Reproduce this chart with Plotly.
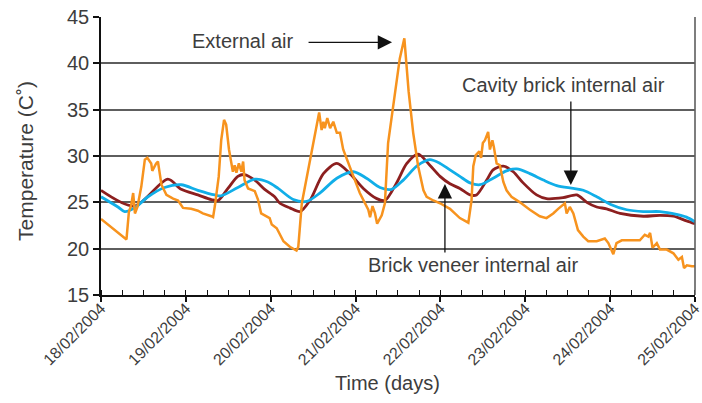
import pandas as pd
import plotly.graph_objects as go

START = pd.Timestamp("2004-02-18")

# External air (hours from 18/02/2004 00:00, temperature C)
ext_hours = [0, 7.2, 7.9, 8.5, 9.1, 9.6, 10.3, 11.4, 12.4, 13.1, 14.2, 14.5, 15.6, 16.1, 17.1, 18.5,
             20.4, 21.8, 23.2, 25.5, 27.4, 28.8, 31.2, 31.7, 32.2, 33.3, 34.0, 34.8, 35.4, 36.2, 37.3,
             37.8, 38.3, 39.0, 39.7, 40.2, 40.6, 41.6, 43.5, 44.4, 45.3, 46.3, 47.7, 48.3, 49.7, 51.6,
             53.4, 55.3, 55.8, 56.8, 58.2, 59.6, 61.0, 61.7, 62.4, 62.9, 63.3, 64.0, 64.8, 65.7, 66.7,
             67.6, 68.5, 70.4, 71.8, 73.2, 74.2, 75.6, 76.1, 76.8, 77.5, 78.1, 79.4, 80.3, 81.2, 82.2,
             83.1, 84.5, 85.8, 87.0, 88.3, 89.7, 91.2, 92.1, 94.0, 95.9, 98.7, 101.5, 103.9, 104.8,
             105.3, 106.0, 107.0, 107.5, 108.0, 108.6, 109.5, 110.0, 110.7, 111.1, 111.9, 112.8, 113.8,
             114.7, 116.1, 118.5, 121.3, 124.1, 126.0, 127.9, 129.3, 131.2, 131.7, 132.6, 133.6, 134.9,
             136.4, 137.8, 140.2, 141.1, 142.5, 143.5, 144.9, 145.8, 147.3, 149.6, 152.4, 153.8, 154.8,
             155.3, 156.0, 157.2, 158.1, 160.0, 161.9, 163.3, 164.3, 164.9, 165.7, 167.1, 168.0]
ext_temp = [23.2, 21.0, 24.0, 24.6, 26.0, 23.8, 24.5, 26.7, 29.6, 29.8, 29.2, 28.4, 29.2, 29.4, 26.9, 25.8,
            25.4, 25.2, 24.4, 24.3, 24.1, 23.8, 23.5, 23.4, 24.6, 27.8, 31.7, 33.9, 33.4, 30.7, 28.3,
            29.0, 28.2, 29.2, 28.3, 29.4, 27.4, 26.5, 26.2, 25.3, 23.8, 23.6, 23.3, 22.6, 22.2, 20.8,
            20.2, 19.8, 20.2, 24.9, 27.8, 30.7, 33.4, 34.7, 32.8, 33.7, 33.0, 34.1, 33.0, 33.7, 32.5,
            32.5, 30.7, 28.9, 27.4, 26.0, 25.3, 24.2, 23.4, 24.6, 23.8, 22.7, 23.6, 24.9, 31.4, 34.2,
            36.5, 40.5, 42.7, 37.0, 32.5, 28.9, 26.3, 25.6, 25.2, 24.9, 24.3, 23.3, 22.8, 25.2,
            28.9, 30.1, 30.5, 29.8, 31.4, 31.7, 32.6, 30.7, 31.7, 31.0, 29.2, 29.0, 27.2,
            26.3, 25.6, 25.0, 24.2, 23.5, 23.3, 23.8, 24.3, 24.9, 23.8, 24.5, 23.8, 22.0,
            21.3, 20.8, 20.8, 20.9, 21.1, 20.6, 19.4, 20.6, 20.9, 20.9, 20.9, 21.5, 21.3,
            21.7, 20.1, 20.6, 19.9, 19.9, 19.5, 18.8, 19.1, 17.9, 18.2, 18.1, 18.1]

# Brick veneer internal air
bv_hours = [0, 9.5, 18.9, 22.7, 27.4, 31.2, 33.1, 35.9, 38.7, 40.6, 43.5, 46.3, 49.1, 50.6, 53.4, 56.3,
            59.1, 62.9, 66.7, 70.4, 74.2, 78.0, 80.3, 83.6, 86.5, 89.7, 93.0, 95.9, 98.7, 101.5, 104.4,
            106.2, 109.1, 110.9, 113.8, 116.6, 119.4, 123.2, 126.0, 130.7, 134.6, 137.4, 140.2, 143.0,
            146.8, 153.4, 158.1, 161.9, 165.6, 168.0]
bv_temp = [26.3, 24.6, 27.5, 26.4, 25.8, 25.3, 25.2, 26.5, 27.8, 28.0, 27.4, 26.4, 25.6, 24.9, 24.4, 24.0,
           25.2, 28.1, 29.2, 28.1, 26.5, 25.4, 25.2, 27.1, 29.2, 30.2, 29.0, 27.8, 27.0, 26.5, 25.8,
           25.8, 27.4, 28.5, 28.9, 28.3, 27.1, 25.8, 25.4, 25.5, 25.8, 25.0, 24.5, 24.3,
           23.8, 23.5, 23.6, 23.5, 23.0, 22.7]

# Cavity brick internal air
cb_hours = [0, 4.8, 6.7, 9.5, 13.3, 18.0, 22.7, 27.4, 32.2, 34.0, 38.7, 43.5, 47.2, 50.1, 54.4, 58.2,
            61.9, 66.7, 71.4, 75.1, 78.9, 82.2, 85.5, 89.3, 93.0, 95.9, 98.7, 101.5, 104.4, 107.2,
            110.9, 114.7, 117.6, 121.3, 125.1, 128.9, 133.6, 136.4, 140.2, 144.0, 148.7, 153.4, 158.1,
            162.8, 165.6, 168.0]
cb_temp = [25.6, 24.5, 24.0, 24.4, 25.6, 26.6, 26.9, 26.3, 25.8, 25.7, 26.6, 27.5, 27.2, 26.5, 25.3, 25.1,
           26.0, 27.6, 28.3, 27.6, 26.6, 26.4, 27.4, 28.9, 29.6, 29.2, 28.5, 27.8, 27.1, 26.9,
           27.6, 28.4, 28.6, 28.1, 27.4, 26.8, 26.5, 26.3, 25.6, 24.8, 24.2, 24.0, 24.0,
           23.7, 23.4, 22.9]

x_ticks = pd.date_range("2004-02-18", "2004-02-25", freq="D")
y_ticks = [15, 20, 25, 30, 35, 40, 45]


def to_time(hours):
    return START + pd.to_timedelta(hours, unit="h")


FONT = "Liberation Sans"
TXT = "#3d3d3d"

fig = go.Figure()
fig.add_trace(go.Scatter(x=to_time(bv_hours), y=bv_temp, mode="lines",
                         line=dict(color="#8c1f1f", width=2.8, shape="spline", smoothing=0.8),
                         name="Brick veneer internal air"))
fig.add_trace(go.Scatter(x=to_time(cb_hours), y=cb_temp, mode="lines",
                         line=dict(color="#11aee8", width=2.8, shape="spline", smoothing=0.8),
                         name="Cavity brick internal air"))
fig.add_trace(go.Scatter(x=to_time(ext_hours), y=ext_temp, mode="lines",
                         line=dict(color="#f7931e", width=2.5),
                         name="External air"))

fig.update_layout(
    width=702, height=403,
    margin=dict(l=101, r=7, t=17, b=108, autoexpand=False),
    paper_bgcolor="white", plot_bgcolor="white",
    showlegend=False,
    font=dict(family=FONT, color=TXT, size=19),
)
x_end = x_ticks[-1] + pd.Timedelta(seconds=20)
fig.update_xaxes(
    range=[x_ticks[0], x_end], automargin=False,
    tickvals=x_ticks, tickformat="%d/%m/%Y", tickangle=-45,
    tickfont=dict(size=16, color=TXT),
    ticklabeloverflow="allow", ticklabelstandoff=-9,
    showgrid=False, zeroline=False,
    showline=True, linecolor="#111", linewidth=1.5,
    ticks="outside", ticklen=5, tickcolor="#111", tickwidth=1.5,
    minor=dict(dtick=6 * 3600 * 1000, ticks="inside", ticklen=5, tickcolor="#111", tickwidth=1.2),
)
fig.update_yaxes(
    range=[15, 45], tickvals=y_ticks, automargin=False,
    tickfont=dict(size=20, color=TXT),
    showgrid=True, gridcolor="#5e5e5e", gridwidth=1.6, zeroline=False,
    showline=True, linecolor="#111", linewidth=1.5,
    ticks="outside", ticklen=6, tickcolor="#111", tickwidth=1.5,
)
# right border
fig.add_shape(type="line", xref="paper", yref="paper", x0=1, x1=1, y0=0, y1=1,
              line=dict(color="#5e5e5e", width=1.6))

ann_font = dict(family=FONT, size=20, color=TXT)
text_kw = dict(xref="paper", yref="paper", showarrow=False, font=ann_font,
               xanchor="center", yanchor="middle")
arrow_kw = dict(xref="paper", yref="paper", text="", showarrow=True, arrowhead=2,
                arrowsize=2.2, arrowwidth=1.3, arrowcolor="#111")
# axis titles
fig.add_annotation(x=0.4815, y=-0.3165, text="Time (days)", **text_kw)
fig.add_annotation(x=-0.128, y=0.482, text="Temperature (C˚)", textangle=-90,
                   xref="paper", yref="paper", showarrow=False,
                   font=dict(family=FONT, size=21, color=TXT),
                   xanchor="center", yanchor="middle")
# series labels and arrows
fig.add_annotation(x=0.239, y=0.914, text="External air", **text_kw)
fig.add_annotation(x=0.490, y=0.909, ax=-85, ay=0, **arrow_kw)
fig.add_annotation(x=0.778, y=0.755, text="Cavity brick internal air", **text_kw)
fig.add_annotation(x=0.791, y=0.396, ax=0, ay=-85, **arrow_kw)
fig.add_annotation(x=0.626, y=0.108, text="Brick veneer internal air", **text_kw)
fig.add_annotation(x=0.579, y=0.399, ax=0, ay=70, **arrow_kw)

fig.write_html("out.html", config={"displayModeBar": False},
               post_script="document.body.style.margin='0px';")
